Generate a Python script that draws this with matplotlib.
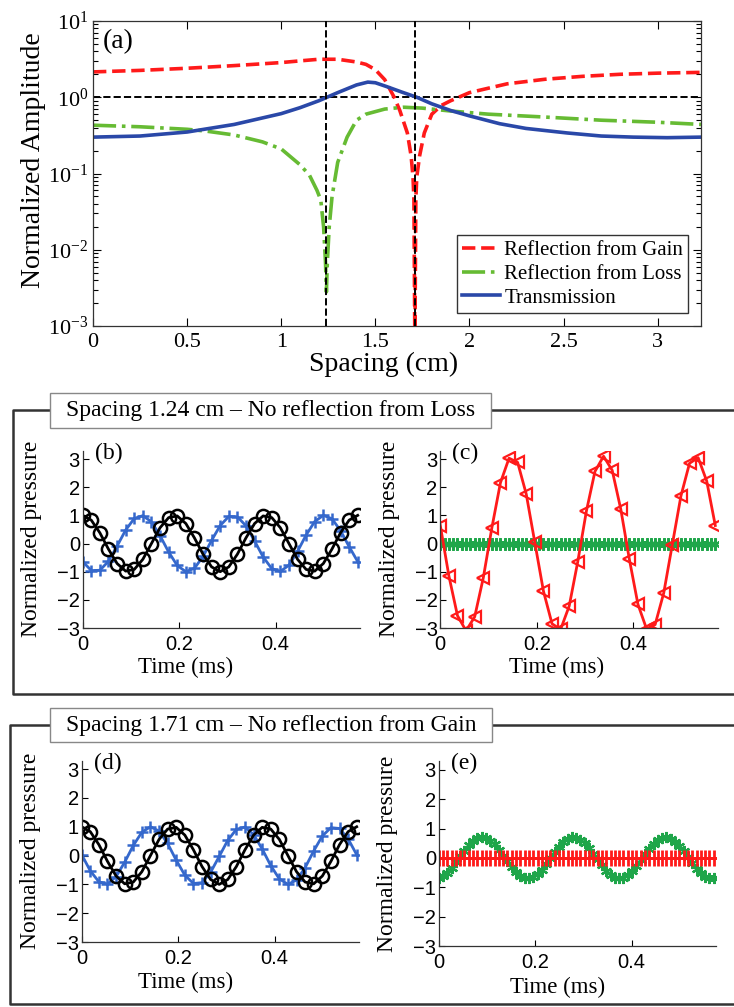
import matplotlib
matplotlib.use('Agg')
import matplotlib.pyplot as plt
from matplotlib.lines import Line2D
from matplotlib.patches import Rectangle
from matplotlib.ticker import NullFormatter, FixedLocator, FixedFormatter

plt.rcParams['font.family'] = ['Liberation Serif', 'DejaVu Serif']
plt.rcParams['mathtext.fontset'] = 'custom'
plt.rcParams['mathtext.rm'] = 'Liberation Serif'
plt.rcParams['mathtext.it'] = 'Liberation Serif:italic'

# ---------------- data: panel (a) ----------------
spacing_gain = [0, 0.25, 0.5, 0.75, 1.0, 1.1, 1.2, 1.3, 1.4, 1.45, 1.5, 1.55, 1.6, 1.63,
                1.67, 1.69, 1.70, 1.705, 1.71, 1.715, 1.72, 1.735, 1.76, 1.8, 1.85, 1.9,
                2.0, 2.2, 2.4, 2.6, 2.8, 3.0, 3.23]
refl_gain = [2.15, 2.25, 2.4, 2.6, 2.85, 3.0, 3.15, 3.15, 2.9, 2.7, 2.3, 1.7, 1.0, 0.67,
             0.34, 0.17, 0.09, 0.045, 0.0005, 0.045, 0.09, 0.17, 0.34, 0.6, 0.78, 0.9,
             1.15, 1.5, 1.72, 1.88, 2.0, 2.07, 2.12]

spacing_loss = [0, 0.25, 0.5, 0.6, 0.75, 0.9, 1.0, 1.1, 1.15, 1.19, 1.21, 1.225, 1.235,
                1.24, 1.245, 1.255, 1.27, 1.3, 1.35, 1.4, 1.45, 1.55, 1.65, 1.75, 1.9,
                2.1, 2.4, 2.7, 3.0, 3.23]
refl_loss = [0.43, 0.41, 0.38, 0.36, 0.32, 0.26, 0.21, 0.13, 0.095, 0.06, 0.045, 0.02,
             0.007, 0.0028, 0.007, 0.02, 0.05, 0.14, 0.3, 0.5, 0.6, 0.7, 0.74, 0.72, 0.66,
             0.6, 0.55, 0.5, 0.47, 0.44]

spacing_trans = [0, 0.25, 0.5, 0.75, 1.0, 1.1, 1.2, 1.3, 1.4, 1.46, 1.5, 1.56, 1.64, 1.72,
                 1.8, 1.9, 2.0, 2.16, 2.3, 2.52, 2.7, 2.87, 3.05, 3.23]
transmission = [0.30, 0.31, 0.35, 0.44, 0.61, 0.73, 0.90, 1.15, 1.45, 1.58, 1.55, 1.38,
                1.17, 1.0, 0.82, 0.67, 0.57, 0.45, 0.39, 0.34, 0.31, 0.30, 0.295, 0.30]

zero_spacings = [1.24, 1.71]
unit_level = 1.0

# ---------------- data: panels (b)-(e) ----------------
time_ms = [0, 0.0178, 0.0356, 0.0534, 0.0713, 0.0891, 0.1069, 0.1247, 0.1425, 0.1603,
           0.1781, 0.1959, 0.2138, 0.2316, 0.2494, 0.2672, 0.285, 0.3028, 0.3206, 0.3384,
           0.3563, 0.3741, 0.3919, 0.4097, 0.4275, 0.4453, 0.4631, 0.4809, 0.4988, 0.5166,
           0.5344, 0.5522, 0.57]

time_dense_ms = [0, 0.0089, 0.0178, 0.0267, 0.0356, 0.0445, 0.0534, 0.0623, 0.0713, 0.0802,
                 0.0891, 0.098, 0.1069, 0.1158, 0.1247, 0.1336, 0.1425, 0.1514, 0.1603, 0.1692,
                 0.1781, 0.187, 0.1959, 0.2048, 0.2138, 0.2227, 0.2316, 0.2405, 0.2494, 0.2583,
                 0.2672, 0.2761, 0.285, 0.2939, 0.3028, 0.3117, 0.3206, 0.3295, 0.3384, 0.3473,
                 0.3563, 0.3652, 0.3741, 0.383, 0.3919, 0.4008, 0.4097, 0.4186, 0.4275, 0.4364,
                 0.4453, 0.4542, 0.4631, 0.472, 0.4809, 0.4898, 0.4988, 0.5077, 0.5166, 0.5255,
                 0.5344, 0.5433, 0.5522, 0.5611, 0.57]

# (b) spacing 1.24 cm
b_black = [1.0, 0.83, 0.38, -0.2, -0.71, -0.98, -0.92, -0.56, 0.0, 0.56, 0.92, 0.98, 0.71,
           0.2, -0.38, -0.83, -1.0, -0.83, -0.38, 0.2, 0.71, 0.98, 0.92, 0.56, 0.0, -0.56,
           -0.92, -0.98, -0.71, -0.2, 0.38, 0.83, 1.0]
b_blue = [-0.64, -0.96, -0.95, -0.63, -0.09, 0.48, 0.89, 0.99, 0.77, 0.28, -0.3, -0.78,
          -1.0, -0.88, -0.46, 0.11, 0.64, 0.96, 0.95, 0.63, 0.09, -0.48, -0.89, -0.99,
          -0.77, -0.28, 0.3, 0.78, 1.0, 0.88, 0.46, -0.11, -0.64]
# (c) spacing 1.24 cm
c_red = [0.64, -1.15, -2.56, -3.1, -2.6, -1.22, 0.56, 2.16, 3.03, 2.88, 1.76, 0.04, -1.69,
         -2.85, -3.05, -2.22, -0.64, 1.15, 2.56, 3.1, 2.6, 1.22, -0.56, -2.16, -3.03, -2.88,
         -1.76, -0.04, 1.69, 2.85, 3.05, 2.22, 0.64]
c_green = [0.0, 0.0, 0.0, 0.0, 0.0, 0.0, 0.0, 0.0, 0.0, 0.0, 0.0, 0.0, 0.0, 0.0, 0.0, 0.0,
           0.0, 0.0, 0.0, 0.0, 0.0, 0.0, 0.0, 0.0, 0.0, 0.0, 0.0, 0.0, 0.0, 0.0, 0.0, 0.0,
           0.0, 0.0, 0.0, 0.0, 0.0, 0.0, 0.0, 0.0, 0.0, 0.0, 0.0, 0.0, 0.0, 0.0, 0.0, 0.0,
           0.0, 0.0, 0.0, 0.0, 0.0, 0.0, 0.0, 0.0, 0.0, 0.0, 0.0, 0.0, 0.0, 0.0, 0.0, 0.0,
           0.0]
# (d) spacing 1.71 cm
d_black = [1.0, 0.83, 0.38, -0.2, -0.71, -0.98, -0.92, -0.56, 0.0, 0.56, 0.92, 0.98, 0.71,
           0.2, -0.38, -0.83, -1.0, -0.83, -0.38, 0.2, 0.71, 0.98, 0.92, 0.56, 0.0, -0.56,
           -0.92, -0.98, -0.71, -0.2, 0.38, 0.83, 1.0]
d_blue = [0.03, -0.53, -0.91, -0.99, -0.73, -0.23, 0.35, 0.81, 1.0, 0.85, 0.42, -0.16,
          -0.68, -0.97, -0.94, -0.58, -0.03, 0.53, 0.91, 0.99, 0.73, 0.23, -0.35, -0.81,
          -1.0, -0.85, -0.42, 0.16, 0.68, 0.97, 0.94, 0.58, 0.03]
# (e) spacing 1.71 cm
e_green = [-0.69, -0.62, -0.51, -0.34, -0.15, 0.05, 0.25, 0.43, 0.57, 0.67, 0.70, 0.67,
           0.59, 0.46, 0.28, 0.08, -0.12, -0.32, -0.48, -0.61, -0.68, -0.70, -0.65, -0.55,
           -0.40, -0.22, -0.02, 0.19, 0.38, 0.53, 0.64, 0.70, 0.69, 0.62, 0.51, 0.34, 0.15,
           -0.05, -0.25, -0.43, -0.57, -0.67, -0.70, -0.67, -0.59, -0.46, -0.28, -0.08, 0.12,
           0.32, 0.48, 0.61, 0.68, 0.70, 0.65, 0.55, 0.40, 0.22, 0.02, -0.19, -0.38, -0.53,
           -0.64, -0.70, -0.69]
e_red = [0.0, 0.0, 0.0, 0.0, 0.0, 0.0, 0.0, 0.0, 0.0, 0.0, 0.0, 0.0, 0.0, 0.0, 0.0, 0.0,
         0.0, 0.0, 0.0, 0.0, 0.0, 0.0, 0.0, 0.0, 0.0, 0.0, 0.0, 0.0, 0.0, 0.0, 0.0, 0.0,
         0.0, 0.0, 0.0, 0.0, 0.0, 0.0, 0.0, 0.0, 0.0, 0.0, 0.0, 0.0, 0.0, 0.0, 0.0, 0.0,
         0.0, 0.0, 0.0, 0.0, 0.0, 0.0, 0.0, 0.0, 0.0, 0.0, 0.0, 0.0, 0.0, 0.0, 0.0, 0.0,
         0.0]

x_ticks_a = [0, 0.5, 1, 1.5, 2, 2.5, 3]
x_ticklabels_a = ['0', '0.5', '1', '1.5', '2', '2.5', '3']
y_ticks_a = [1e-3, 1e-2, 1e-1, 1e0, 1e1]
y_ticklabels_a = [r'$10^{-3}$', r'$10^{-2}$', r'$10^{-1}$', r'$10^{0}$', r'$10^{1}$']
y_minor_ticks_a = [m * d for d in (1e-3, 1e-2, 1e-1, 1e0) for m in range(2, 10)]
p_ticks = [-3, -2, -1, 0, 1, 2, 3]
p_ticklabels = ['\u22123', '\u22122', '\u22121', '0', '1', '2', '3']
t_ticks = [0, 0.2, 0.4]
t_ticklabels = ['0', '0.2', '0.4']

# ---------------- figure ----------------
W, H = 734, 1007
fig = plt.figure(figsize=(W / 100, H / 100), dpi=100)


def fr(x0, y0, x1, y1):
    return [x0 / W, 1 - y1 / H, (x1 - x0) / W, (y1 - y0) / H]


RED = '#ff1a1a'
GREEN_A = '#66bb33'
BLUE_A = '#2a48a8'
BLUE = '#3568cc'
GREEN = '#1fa64a'

# ---- panel (a)
ax = fig.add_axes(fr(93, 21, 701, 326))
ax.set_yscale('log')
ax.plot(spacing_gain, refl_gain, '--', color=RED, lw=2.6, label='Reflection from Gain')
ax.plot(spacing_loss, refl_loss, '-.', color=GREEN_A, lw=2.6, label='Reflection from Loss')
ax.plot(spacing_trans, transmission, '-', color=BLUE_A, lw=2.6, label='Transmission')
for xv in zero_spacings:
    ax.axvline(xv, color='black', ls='--', lw=1.4, zorder=5)
ax.axhline(unit_level, color='black', ls='--', lw=1.4, zorder=1)
ax.set_xlim(0, 3.23)
ax.set_ylim(1e-3, 1e1)
ax.xaxis.set_major_locator(FixedLocator(x_ticks_a))
ax.xaxis.set_major_formatter(FixedFormatter(x_ticklabels_a))
ax.yaxis.set_major_locator(FixedLocator(y_ticks_a))
ax.yaxis.set_major_formatter(FixedFormatter(y_ticklabels_a))
ax.yaxis.set_minor_locator(FixedLocator(y_minor_ticks_a))
ax.yaxis.set_minor_formatter(NullFormatter())
ax.tick_params(which='both', direction='in', top=True, right=True, labelsize=16)
ax.tick_params(axis='x', which='major', pad=5)
ax.tick_params(which='major', length=6, width=0.8)
ax.tick_params(which='minor', length=3.5, width=0.8)
for s in ax.spines.values():
    s.set_linewidth(0.9)
    s.set_color('#333333')
ax.set_xlabel('Spacing (cm)', fontsize=20)
ax.xaxis.set_label_coords(0.478, -0.085)
ax.set_ylabel('Normalized Amplitude', fontsize=20)
ax.yaxis.set_label_coords(-0.078, 0.544)
ax.text(0.05, 5.3, '(a)', fontsize=20, va='center', ha='left')
leg = ax.legend(loc='lower right', bbox_to_anchor=(0.979, 0.043), borderaxespad=0,
                fontsize=15, handlelength=1.8, handletextpad=0.2, borderpad=0.25,
                labelspacing=0.2, fancybox=False, framealpha=1)
leg.get_frame().set_edgecolor('#333333')
leg.get_frame().set_linewidth(1.0)


# ---- lower panels
def style_small(a, label, xlab_x):
    a.set_xlim(0, 0.575)
    a.set_ylim(-3, 3.3)
    a.xaxis.set_major_locator(FixedLocator(t_ticks))
    a.xaxis.set_major_formatter(FixedFormatter(t_ticklabels))
    a.yaxis.set_major_locator(FixedLocator(p_ticks))
    a.yaxis.set_major_formatter(FixedFormatter(p_ticklabels))
    a.spines['top'].set_visible(False)
    a.spines['right'].set_visible(False)
    for s in ('left', 'bottom'):
        a.spines[s].set_color('#333333')
        a.spines[s].set_linewidth(0.9)
    a.tick_params(direction='in', length=4, width=0.8, labelsize=14.5)
    a.tick_params(axis='x', pad=5)
    a.tick_params(axis='y', pad=2)
    for lab in a.get_xticklabels() + a.get_yticklabels():
        lab.set_family('Liberation Sans')
    a.set_xlabel('Time (ms)', fontsize=16.5)
    a.xaxis.set_label_coords(xlab_x, -0.165)
    a.set_ylabel('Normalized pressure', fontsize=17)
    a.yaxis.set_label_coords(-0.145, 0.5)
    a.text(0.025, 3.2, label, fontsize=17, va='center', ha='left')


axb = fig.add_axes(fr(82.7, 450.6, 360.1, 628))
axb.plot(time_ms, b_blue, '-', color=BLUE, lw=2, marker='+', ms=8, mew=1.8)
axb.plot(time_ms, b_black, '-', color='black', lw=2, marker='o', ms=9.5, mew=1.8, mfc='none')
style_small(axb, '(b)', 0.37)

axc = fig.add_axes(fr(440.3, 450.6, 717.7, 628))
axc.plot(time_dense_ms, c_green, '-', color=GREEN, lw=2, marker=(6, 2, 0), ms=9, mew=1.6)
axc.plot(time_ms, c_red, '-', color=RED, lw=2, marker='<', ms=9, mew=1.6, mfc='none')
style_small(axc, '(c)', 0.42)

axd = fig.add_axes(fr(81.7, 760.5, 359.1, 942))
axd.plot(time_ms, d_blue, '-', color=BLUE, lw=2, marker='+', ms=8, mew=1.8)
axd.plot(time_ms, d_black, '-', color='black', lw=2, marker='o', ms=9.5, mew=1.8, mfc='none')
style_small(axd, '(d)', 0.375)

axe = fig.add_axes(fr(438.7, 761, 716.1, 946))
axe.plot(time_dense_ms, e_green, '-', color=GREEN, lw=2, marker=(6, 2, 0), ms=8, mew=1.6)
axe.plot(time_dense_ms, e_red, '-', color=RED, lw=2, marker='+', ms=11, mew=2)
style_small(axe, '(e)', 0.43)


# ---- group frames and title boxes (figure pixel coords)
def px_line(xs, ys, **kw):
    fig.add_artist(Line2D([x / W for x in xs], [1 - y / H for y in ys],
                          transform=fig.transFigure, color='#333333', lw=1.8, **kw))


def group_frame(top, bottom, left, box_x0, box_x1, box_y0, box_y1, title):
    px_line([box_x0, left, left, W + 5], [top, top, bottom, bottom])
    px_line([box_x1, W + 5], [top, top])
    fig.add_artist(Rectangle((box_x0 / W, 1 - box_y1 / H), (box_x1 - box_x0) / W,
                             (box_y1 - box_y0) / H, transform=fig.transFigure,
                             facecolor='white', edgecolor='#888888', lw=1.0, zorder=3))
    fig.text((box_x0 + box_x1) / 2 / W, 1 - (box_y0 + box_y1) / 2 / H, title,
             fontsize=17, ha='center', va='center', zorder=4)


group_frame(410, 694, 13, 50, 491, 393, 428,
            'Spacing 1.24 cm \u2013 No reflection from Loss')
group_frame(725, 1004, 10, 50, 492, 708, 742,
            'Spacing 1.71 cm \u2013 No reflection from Gain')

fig.savefig('out.png', dpi=100)
